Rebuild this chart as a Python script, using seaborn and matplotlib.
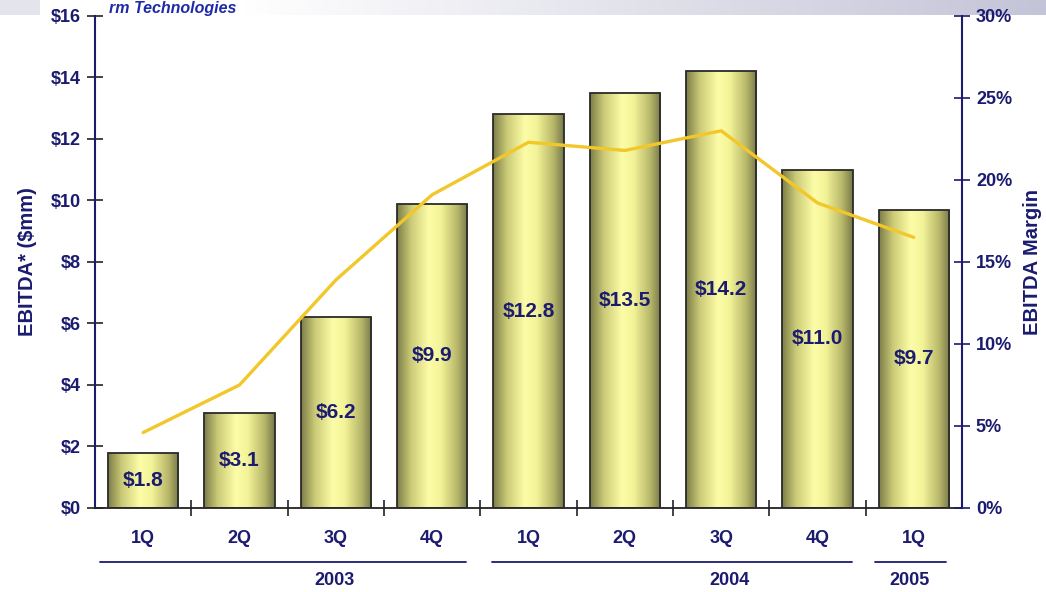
import numpy as np
import pandas as pd
import seaborn as sns
import matplotlib.pyplot as plt
from matplotlib.colors import LinearSegmentedColormap
from matplotlib.ticker import FuncFormatter

# chart values
quarters = ["1Q", "2Q", "3Q", "4Q", "1Q", "2Q", "3Q", "4Q", "1Q"]
years = ["2003", "2003", "2003", "2003", "2004", "2004", "2004", "2004", "2005"]
ebitda = [1.8, 3.1, 6.2, 9.9, 12.8, 13.5, 14.2, 11.0, 9.7]
margin = [4.6, 7.5, 13.9, 19.1, 22.3, 21.8, 23.0, 18.6, 16.5]
labels = ["$1.8", "$3.1", "$6.2", "$9.9", "$12.8", "$13.5", "$14.2", "$11.0", "$9.7"]

NAVY = "#1b1b6f"
sns.set_theme(style="white")
plt.rcParams["font.family"] = ["Liberation Sans", "DejaVu Sans"]
narrow = ["Liberation Sans Narrow", "Liberation Sans", "DejaVu Sans"]

df = pd.DataFrame({"period": [f"{q} {y}" for q, y in zip(quarters, years)],
                   "ebitda": ebitda, "margin": margin})
df["pos"] = np.arange(len(df))

fig = plt.figure(figsize=(10.46, 5.92), dpi=100)
ax = fig.add_axes([0.0908, 0.1419, 0.8289, 0.8311])

sns.barplot(data=df, x="period", y="ebitda", color="#e8e890", width=0.73,
            edgecolor="#2a2a2a", linewidth=1.3, ax=ax, zorder=3)

# cylinder-like horizontal gradient on the bars
cmap = LinearSegmentedColormap.from_list(
    "bar", [(0, "#7d7d48"), (0.2, "#cccc78"), (0.45, "#fdfda8"),
            (0.62, "#f2f298"), (0.85, "#b8b86a"), (1, "#78784a")])
grad = np.linspace(0, 1, 256).reshape(1, -1)
for p in list(ax.patches):
    x0, y0 = p.get_x(), p.get_y()
    w, h = p.get_width(), p.get_height()
    im = ax.imshow(grad, extent=[x0, x0 + w, y0, y0 + h], aspect="auto",
                   cmap=cmap, zorder=2.5, interpolation="bicubic")
    im.set_clip_path(p)
    p.set_facecolor("none")

ax.set_xlim(-0.5, 8.5)
ax.set_ylim(0, 16)
ax.set_yticks(np.arange(0, 17, 2))
ax.yaxis.set_major_formatter(FuncFormatter(lambda v, _: f"${v:.0f}"))
ax.set_xticks(df["pos"])
ax.set_xticklabels(quarters)
ax.set_xticks(np.arange(0.5, 8.5, 1), minor=True)
ax.tick_params(axis="x", which="major", length=0, pad=16, labelsize=13,
               labelcolor=NAVY)
ax.tick_params(axis="x", which="minor", direction="inout", length=12,
               width=1.2, color="#222222", bottom=True)
ax.tick_params(axis="y", direction="inout", length=12, width=1.2,
               color="#222222", left=True, pad=4, labelsize=13, labelcolor=NAVY)
for t in ax.get_xticklabels() + ax.get_yticklabels():
    t.set_fontweight("bold")
    t.set_family(narrow)
ax.set_xlabel("")
ax.set_ylabel("EBITDA* ($mm)", color=NAVY, fontsize=14.5, fontweight="bold",
              labelpad=10)
for s in ["top", "right"]:
    ax.spines[s].set_visible(False)
ax.spines["left"].set_color(NAVY)
ax.spines["left"].set_linewidth(1.5)
ax.spines["bottom"].set_color("#222222")
ax.spines["bottom"].set_linewidth(1.3)

for i, (v, lab) in enumerate(zip(ebitda, labels)):
    ax.text(i, v / 2, lab, ha="center", va="center", color=NAVY,
            fontsize=15, fontweight="bold", zorder=6)

# margin line on the right axis
ax2 = ax.twinx()
sns.lineplot(data=df, x="pos", y="margin", color="#f2c72a", linewidth=2.4,
             ax=ax2, zorder=5)
ax2.set_ylim(0, 30)
ax2.set_xlim(-0.5, 8.5)
ax2.set_yticks(np.arange(0, 31, 5))
ax2.yaxis.set_major_formatter(FuncFormatter(lambda v, _: f"{v:.0f}%"))
ax2.tick_params(axis="y", direction="inout", length=12, width=1.2,
                color=NAVY, right=True, pad=4, labelsize=13, labelcolor=NAVY)
for t in ax2.get_yticklabels():
    t.set_fontweight("bold")
    t.set_family(narrow)
ax2.set_ylabel("EBITDA Margin", color=NAVY, fontsize=14.5, fontweight="bold",
               labelpad=8)
for s in ["top", "left", "bottom"]:
    ax2.spines[s].set_visible(False)
ax2.spines["right"].set_color(NAVY)
ax2.spines["right"].set_linewidth(1.5)
ax2.set_xlabel("")

# year groups under the quarter labels
tr = ax.get_xaxis_transform()
groups = [("2003", -0.45, 3.35, 1.99), ("2004", 3.62, 7.36, 6.09),
          ("2005", 7.6, 8.33, 7.96)]
for name, a, b, c in groups:
    ax.plot([a, b], [-0.11, -0.11], color=NAVY, lw=1.3, transform=tr,
            clip_on=False)
    ax.text(c, -0.148, name, transform=tr, ha="center", va="center",
            color=NAVY, fontsize=13, fontweight="bold", family=narrow)

# header band and logo
hdr = fig.add_axes([0, 0.975, 1, 0.025], zorder=-1)
band = np.concatenate([np.full(40, 0.45), np.zeros(200), np.linspace(0, 1, 806)])
hdr.imshow(band.reshape(1, -1), aspect="auto",
           cmap=LinearSegmentedColormap.from_list("hdr", ["#ffffff", "#c4c4d8"]),
           vmin=0, vmax=1)
hdr.axis("off")
fig.text(0.104, 0.999, "rm Technologies", color="#1f2aa8", fontsize=11.5,
         fontweight="bold", style="italic", ha="left", va="top")

fig.savefig("out.png", dpi=100)
